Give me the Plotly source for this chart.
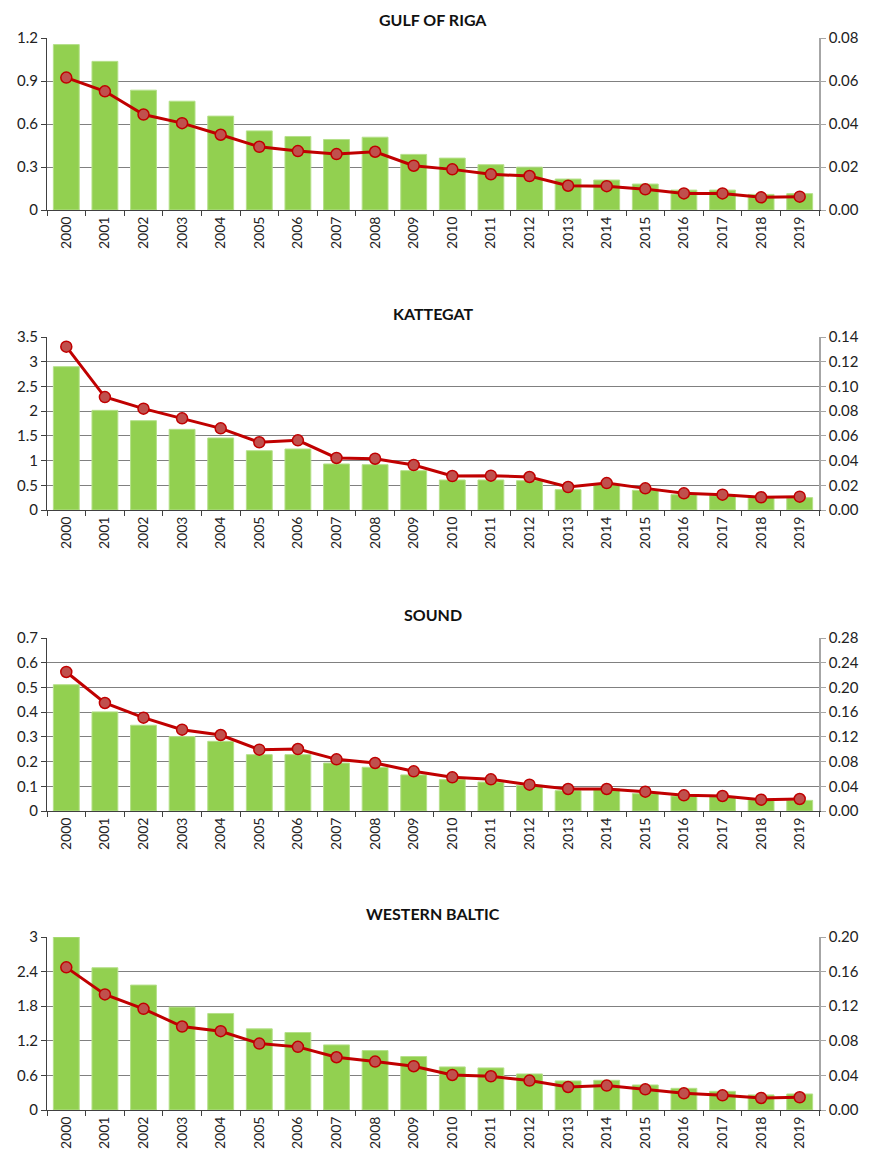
import plotly.graph_objects as go

years = [str(y) for y in range(2000, 2020)]

titles = ["GULF OF RIGA", "KATTEGAT", "SOUND", "WESTERN BALTIC"]

riga_bars = [1.154, 1.037, 0.836, 0.759, 0.655, 0.552, 0.513, 0.492, 0.508, 0.388,
             0.362, 0.316, 0.299, 0.216, 0.209, 0.181, 0.139, 0.139, 0.109, 0.114]
riga_line = [0.0616, 0.0552, 0.0444, 0.0404, 0.0350, 0.0294, 0.0274, 0.0260, 0.0271, 0.0206,
             0.0189, 0.0166, 0.0158, 0.0113, 0.0111, 0.0096, 0.0077, 0.0077, 0.0059, 0.0062]

kattegat_bars = [2.90, 2.016, 1.807, 1.632, 1.457, 1.200, 1.234, 0.931, 0.917, 0.796,
                 0.607, 0.607, 0.593, 0.411, 0.52, 0.398, 0.31, 0.29, 0.25, 0.25]
kattegat_line = [0.1322, 0.0914, 0.0820, 0.0742, 0.0661, 0.0548, 0.0564, 0.0421, 0.0415, 0.0364,
                 0.0275, 0.0278, 0.0267, 0.0186, 0.0218, 0.0175, 0.0135, 0.0124, 0.0103, 0.0108]

sound_bars = [0.511, 0.401, 0.347, 0.301, 0.282, 0.228, 0.228, 0.194, 0.177, 0.146,
              0.127, 0.117, 0.104, 0.082, 0.09, 0.070, 0.061, 0.058, 0.045, 0.043]
sound_line = [0.225, 0.1748, 0.151, 0.1316, 0.123, 0.0993, 0.1003, 0.0836, 0.0777, 0.0642,
              0.0545, 0.0513, 0.0426, 0.0356, 0.0356, 0.0313, 0.0254, 0.0243, 0.0183, 0.0194]

wbaltic_bars = [3.0, 2.467, 2.166, 1.784, 1.674, 1.407, 1.344, 1.129, 1.031, 0.927,
                0.747, 0.730, 0.625, 0.504, 0.515, 0.434, 0.376, 0.324, 0.261, 0.278]
wbaltic_line = [0.1649, 0.1336, 0.117, 0.0965, 0.0911, 0.0768, 0.073, 0.061, 0.056, 0.0506,
                0.0405, 0.039, 0.034, 0.0266, 0.0282, 0.0239, 0.0193, 0.017, 0.0139, 0.0147]

bars = [riga_bars, kattegat_bars, sound_bars, wbaltic_bars]
lines = [riga_line, kattegat_line, sound_line, wbaltic_line]

left_max = [1.2, 3.5, 0.7, 3.0]
left_dtick = [0.3, 0.5, 0.1, 0.6]
right_max = [0.08, 0.14, 0.28, 0.20]
right_dtick = [0.02, 0.02, 0.04, 0.04]

OFF = 8  # page body margin
W, H = 869 - OFF, 1158 - OFF
# plot area pixel extents in the final page (top, bottom)
panels_px = [(38, 210), (337, 510), (638, 811), (937, 1110)]

FONT = "Lato"
fig = go.Figure()
layout = dict(
    width=W, height=H,
    margin=dict(l=47 - OFF, r=50, t=0, b=0, autoexpand=False),
    paper_bgcolor="white", plot_bgcolor="white",
    showlegend=False, bargap=0.33,
    font=dict(family=FONT, size=14, color="#222222"),
    annotations=[],
)

for i in range(4):
    xa = f"x{i+1}" if i else "x"
    yl_n = 2 * i + 1
    yr_n = 2 * i + 2
    yl = f"y{yl_n}" if yl_n > 1 else "y"
    yr = f"y{yr_n}"
    fig.add_trace(go.Bar(x=years, y=bars[i], xaxis=xa, yaxis=yl,
                         marker=dict(color="#92D050", line=dict(color="#B5E08A", width=1))))
    fig.add_trace(go.Scatter(x=years, y=lines[i], xaxis=xa, yaxis=yr, mode="lines+markers",
                             line=dict(color="#C00000", width=3),
                             marker=dict(size=11, color="#C0504D", line=dict(color="#C00000", width=1.5))))
    top, bot = panels_px[i]
    top -= OFF
    bot -= OFF
    dom = [1 - bot / H, 1 - top / H]
    xkey = f"xaxis{i+1}" if i else "xaxis"
    ylkey = f"yaxis{yl_n}" if yl_n > 1 else "yaxis"
    yrkey = f"yaxis{yr_n}"
    layout[xkey] = dict(
        domain=[0, 1], anchor=yl, type="category", range=[-0.5, 19.5], automargin=False,
        tickangle=-90, ticks="outside", tickson="boundaries", ticklen=5,
        tickcolor="#404040", showline=True, linecolor="#404040", linewidth=1,
        showgrid=False, tickfont=dict(size=14, family=FONT, color="#222222"),
    )
    layout[ylkey] = dict(
        domain=dom, anchor=xa, range=[0, left_max[i]], dtick=left_dtick[i], tick0=0,
        automargin=False,
        showline=True, linecolor="#404040", linewidth=1, ticks="outside", ticklen=5,
        tickcolor="#404040", showgrid=True, gridcolor="#808080", gridwidth=1,
        zeroline=False, tickfont=dict(size=15, family=FONT, color="#222222"),
    )
    layout[yrkey] = dict(
        domain=dom, anchor=xa, overlaying=yl, side="right", automargin=False,
        range=[0, right_max[i]], dtick=right_dtick[i], tick0=0, tickformat=".2f",
        showline=True, linecolor="#A6A6A6", linewidth=1.5, ticks="outside", ticklen=5,
        tickcolor="#A6A6A6", showgrid=False, zeroline=False,
        tickfont=dict(size=15, family=FONT, color="#222222"),
    )
    layout["annotations"].append(dict(
        text=f"<b>{titles[i]}</b>", xref="paper", yref="paper",
        x=0.5, y=1 - max(top - 35, 0) / H, xanchor="center", yanchor="top",
        showarrow=False, font=dict(size=16, family=FONT, color="#111111"),
    ))

fig.update_layout(**layout)
fig.write_html("out.html")
